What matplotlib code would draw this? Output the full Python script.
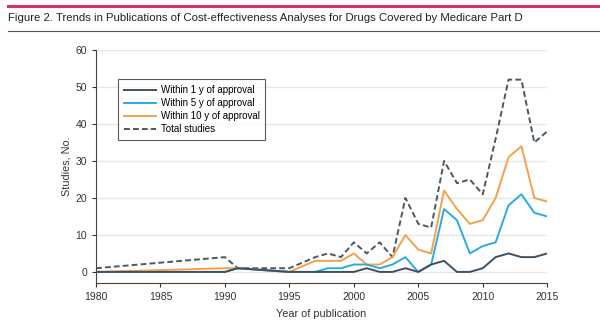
import matplotlib
matplotlib.use('Agg')
import matplotlib.pyplot as plt
from matplotlib.lines import Line2D

# Publications per year
years = [1980, 1990, 1991, 1995, 1997, 1998, 1999, 2000, 2001, 2002, 2003, 2004,
         2005, 2006, 2007, 2008, 2009, 2010, 2011, 2012, 2013, 2014, 2015]
within_1y = [0, 0, 1, 0, 0, 0, 0, 0, 1, 0, 0, 1, 0, 2, 3, 0, 0, 1, 4, 5, 4, 4, 5]
within_5y = [0, 0, 1, 0, 0, 1, 1, 2, 2, 1, 2, 4, 0, 2, 17, 14, 5, 7, 8, 18, 21, 16, 15]
within_10y = [0, 1, 1, 0, 3, 3, 3, 5, 2, 2, 4, 10, 6, 5, 22, 17, 13, 14, 20, 31, 34, 20, 19]
total = [1, 4, 1, 1, 4, 5, 4, 8, 5, 8, 4, 20, 13, 12, 30, 24, 25, 21, 36, 52, 52, 35, 38]

x_ticks = [1980, 1985, 1990, 1995, 2000, 2005, 2010, 2015]
y_ticks = [0, 10, 20, 30, 40, 50, 60]

title = 'Figure 2. Trends in Publications of Cost-effectiveness Analyses for Drugs Covered by Medicare Part D'

plt.rcParams['font.family'] = ['Liberation Sans', 'DejaVu Sans']

fig = plt.figure(figsize=(6, 3.24), dpi=100)
fig.patch.set_facecolor('white')

# header rules and title
fig.add_artist(Line2D([0.013, 1.0], [0.981, 0.981], color='#d4306f', lw=2.2))
fig.add_artist(Line2D([0.013, 1.0], [0.904, 0.904], color='#555555', lw=0.8))
fig.text(0.013, 0.945, title, fontsize=8.2, color='#222222', va='center', ha='left')

ax = fig.add_axes([0.16, 0.1265, 0.752, 0.719])

ax.plot(years, total, color='#4b5965', lw=1.4, ls=(0, (3, 1.6)), label='Total studies', zorder=2)
ax.plot(years, within_1y, color='#3f5160', lw=1.4, label='Within 1 y of approval', zorder=5)
ax.plot(years, within_5y, color='#2aace2', lw=1.4, label='Within 5 y of approval', zorder=4)
ax.plot(years, within_10y, color='#f4a14c', lw=1.4, label='Within 10 y of approval', zorder=3)

ax.set_xlim(1980, 2015)
ax.set_ylim(-3, 60)
ax.set_xticks(x_ticks)
ax.set_yticks(y_ticks)
ax.grid(axis='y', color='#e6e6e6', lw=1.0, zorder=0)
ax.set_axisbelow(True)

for s in ['top', 'right']:
    ax.spines[s].set_visible(False)
for s in ['left', 'bottom']:
    ax.spines[s].set_color('#444444')
    ax.spines[s].set_linewidth(0.8)
ax.spines['left'].set_bounds(-3, 60)

ax.tick_params(axis='both', labelsize=7.5, colors='#333333', length=3, width=0.8)
ax.set_xlabel('Year of publication', fontsize=7.8, color='#333333', labelpad=5)
ax.set_ylabel('Studies, No.', fontsize=7.8, color='#333333', labelpad=3)

handles, labels = ax.get_legend_handles_labels()
order = [1, 2, 3, 0]
leg = ax.legend([handles[i] for i in order], [labels[i] for i in order],
                loc='upper left', bbox_to_anchor=(0.038, 0.895), fontsize=7.0,
                frameon=True, fancybox=False, edgecolor='#333333',
                handlelength=3.3, handletextpad=0.5, labelspacing=0.3,
                borderpad=0.6)
leg.get_frame().set_linewidth(0.8)

fig.savefig('out.png', dpi=100, facecolor='white')
